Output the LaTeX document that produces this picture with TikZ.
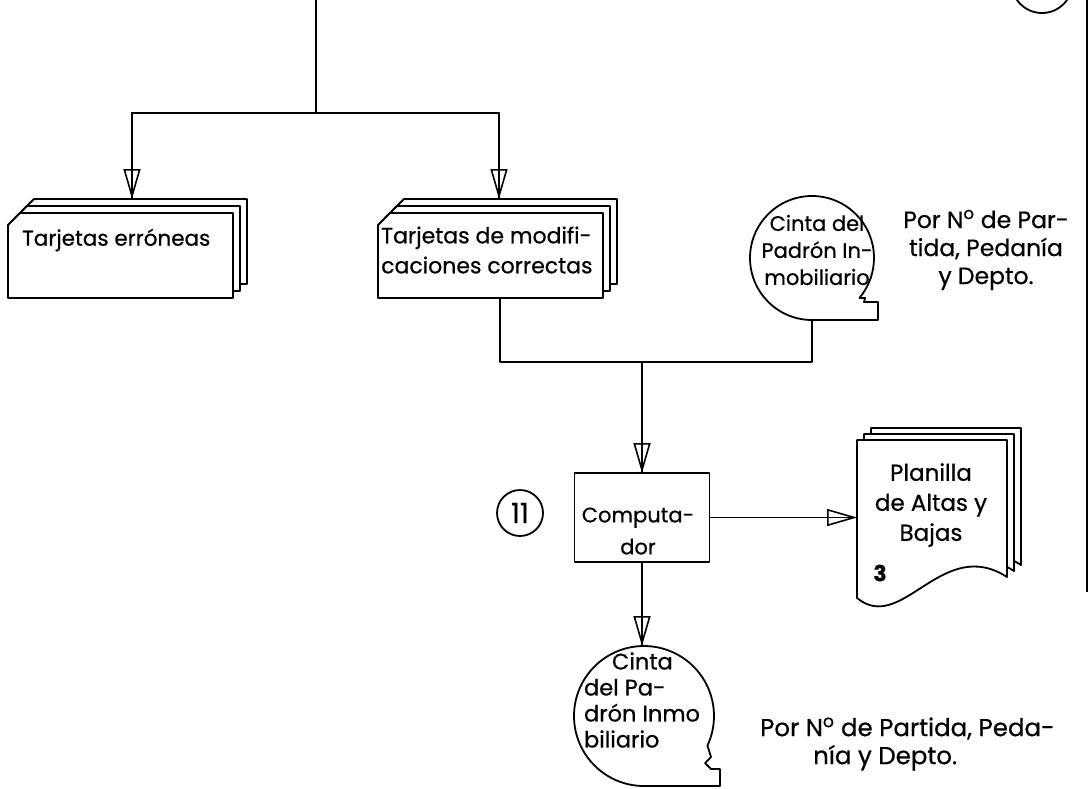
\documentclass[tikz,border=0pt]{standalone}
\usepackage{fontspec}
\setmainfont{Poppins}[FakeBold=0.6]
\usetikzlibrary{arrows.meta}
\newcommand\mycard[1]{%
  \foreach \d in {14,7,0}{%
    \draw[ln,fill=white] ([xshift={\d*1pt},yshift={(\d-12)*1pt}]#1.north west) -- ([xshift={(\d+12)*1pt},yshift={\d*1pt}]#1.north west) -- ([xshift={\d*1pt},yshift={\d*1pt}]#1.north east) -- ([xshift={\d*1pt},yshift={\d*1pt}]#1.south east) -- ([xshift={\d*1pt},yshift={\d*1pt}]#1.south west) -- cycle;}}
\begin{document}
\begin{tikzpicture}[x=1pt,y=-1pt,line join=round,
  ln/.style={line width=1.8pt},
  arr/.style={line width=1.8pt,-{Triangle[open,length=30pt,width=17pt,line width=1.6pt]},postaction={draw,line width=1.8pt,arrows=-}},
  txt/.style={inner sep=0pt,font=\fontsize{21}{28}\selectfont},
  anchorbox/.style={inner sep=0pt,outer sep=0pt,draw=none}]
\useasboundingbox (0,0) rectangle (1089,788);
\clip (0,0) rectangle (1089,788);

% cards
\node[anchorbox, minimum width=225pt, minimum height=85pt] (cardL) at (120.5,255.5) {};
\node[anchorbox, minimum width=225pt, minimum height=85pt] (cardR) at (490.5,255.5) {};
\mycard{cardL}
\mycard{cardR}
\node[txt, anchor=west, font=\fontsize{21.5}{28}\selectfont] (tErr) at (22,240) {Tarjetas erróneas};
\node[txt, anchor=west, align=left, font=\fontsize{22}{30}\selectfont] (tMod) at (381,250) {Tarjetas de modifi-\\caciones correctas};

% top connectors
\coordinate (top) at (316,0);
\coordinate (split) at (316,113);
\draw[ln] (top) -- (split);
\draw[arr] (split) -| ([xshift=11.5pt,yshift=14pt]cardL.north);
\draw[arr] (split) -| ([xshift=8.5pt,yshift=14pt]cardR.north);

% tape A
\node[anchorbox, circle, minimum size=124pt] (tapeA) at (812,258) {};
\begin{scope}[shift={(tapeA.center)}]
\draw[ln] (0,62) arc[start angle=90,end angle=400,radius=62] -- (53,40) -- (52,44) -- (66,44) -- (66,62) -- cycle;
\end{scope}
\node[txt, align=center, font=\fontsize{21}{27}\selectfont] (tapeAT) at (817,250) {Cinta del\\Padrón In-\\mobiliario};
\node[txt, align=center, font=\fontsize{23.5}{28}\selectfont] (noteA) at (986,250) {Por N\textsuperscript{o} de Par-\\tida, Pedanía\\y Depto.};

% junction and computer
\coordinate (j1) at (642,362);
\draw[ln] ([xshift=9.5pt]cardR.south) |- (j1) -| (tapeA.south);
\node[draw, ln, minimum width=135pt, minimum height=89pt, inner sep=0pt, outer sep=0pt] (comp) at (642,517.5) {};
\node[txt, align=center, font=\fontsize{21}{32}\selectfont] (compT) at (638,531) {Computa-\\dor};
\draw[arr] (j1) -- (comp.north);
\node[draw, circle, ln, minimum size=46pt, inner sep=0pt, font=\fontsize{28}{28}\selectfont] (n11) at (520,513) {11};

% planilla
\node[anchorbox, minimum width=150pt, minimum height=158pt] (plan) at (932,519) {};
\begin{scope}[shift={(plan.north west)}]
\foreach \dx/\dy in {14/-12,7/-6,0/0}
  \draw[ln, fill=white, shift={(\dx,\dy)}] (0,0) -- (150,0) -- (150,137) .. controls (85,95) and (45,195) .. (0,158) -- cycle;
\end{scope}
\node[txt, align=center, font=\fontsize{23}{30}\selectfont] (planT) at (931,505) {Planilla\\de Altas y\\Bajas};
\node[txt, font=\bfseries\fontsize{22}{22}\selectfont] (three) at (880,573) {3};
\draw[arr] (comp.east) -- (comp.east -| plan.west);

% tape B
\node[anchorbox, circle, minimum size=140pt] (tapeB) at (644,716) {};
\begin{scope}[shift={(tapeB.center)}]
\draw[ln] (0,70) arc[start angle=90,end angle=385,radius=70] -- (67,41) -- (61,47) -- (67,53) -- (76,53) -- (76,70) -- cycle;
\end{scope}
\draw[arr] (comp.south) -- (comp.south |- tapeB.north);
\node[txt, align=left, font=\fontsize{22.5}{26}\selectfont] (tapeBT) at (642,700) {\hspace*{28pt}Cinta\\del Pa-\\drón Inmo\\biliario};
\node[txt, align=left, font=\fontsize{24.5}{28}\selectfont, anchor=west] (noteB) at (760,744) {Por N\textsuperscript{o} de Partida, Peda-\\\hspace*{53pt}nía y Depto.};

% page marks
\node[draw, circle, ln, minimum size=61pt] (pg) at (1042,-17.5) {};
\coordinate (f0) at (1087,0);
\coordinate (f1) at (1087,90);
\coordinate (f2) at (1087,592);
\draw[line width=2.5pt] (f0) -- (f1);
\draw[line width=1.4pt] (f1) -- (f2);
\end{tikzpicture}
\end{document}
